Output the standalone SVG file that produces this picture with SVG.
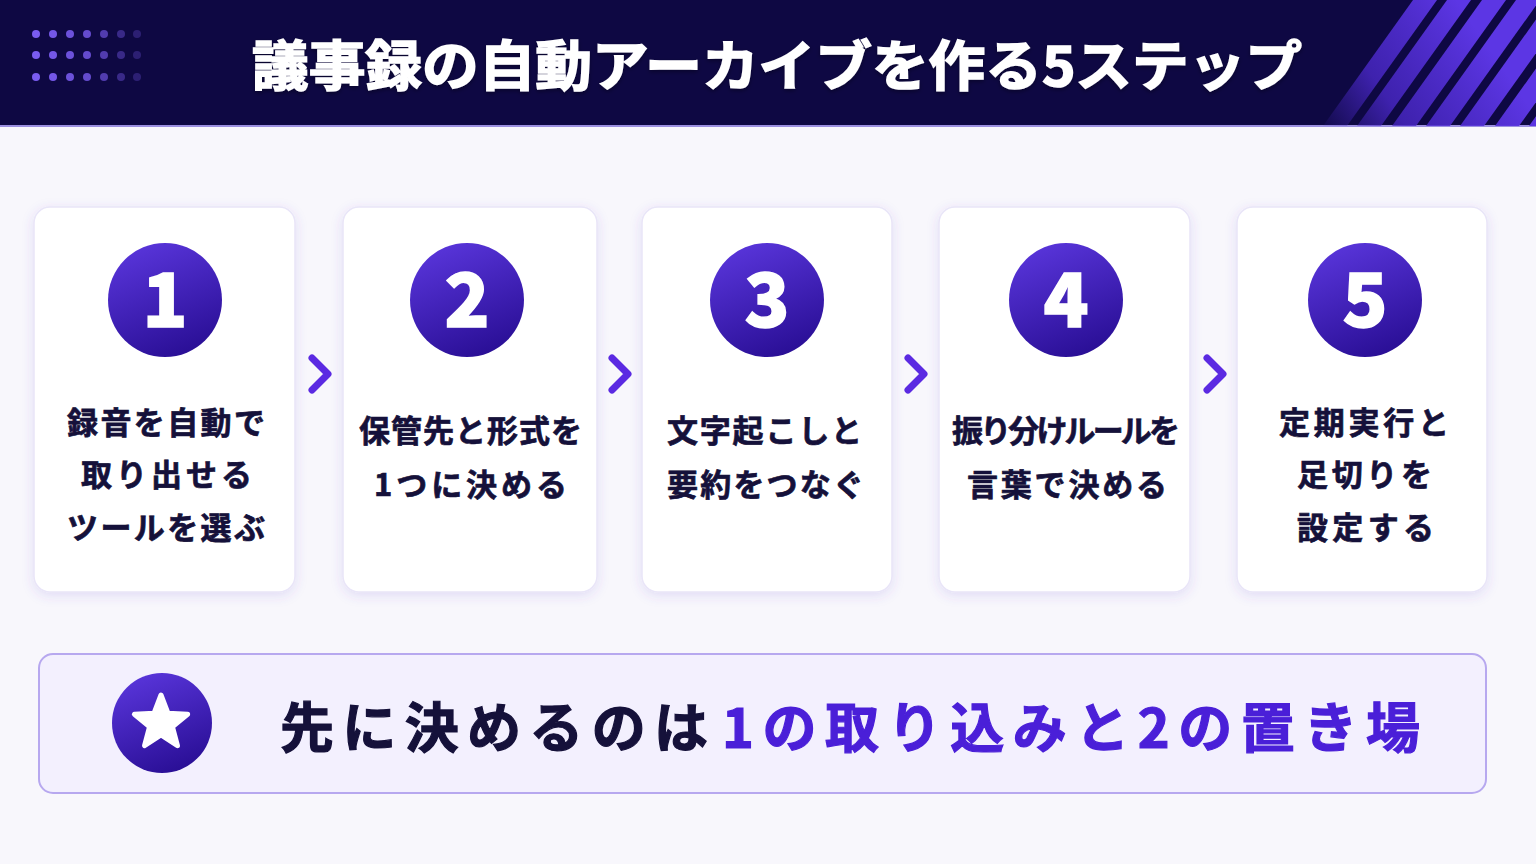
<svg xmlns="http://www.w3.org/2000/svg" width="1536" height="864" viewBox="0 0 1536 864">
<defs>
<style>
.jp{font-family:"Noto Sans CJK JP","Noto Sans CJK SC",sans-serif;font-weight:700;}
.card{fill:#ffffff;stroke:#e9e5f8;stroke-width:1.5;}
.ctext{fill:#15113a;font-size:31px;stroke:#15113a;stroke-width:0.7;}
.num{fill:#ffffff;font-size:74px;font-weight:900;text-anchor:middle;stroke:#ffffff;stroke-width:1.5;}
.chev{fill:none;stroke:#5b2ae2;stroke-width:7;stroke-linecap:round;stroke-linejoin:round;}
.dot{fill:#7a5cf0;}
.band{fill:url(#bandGrad);}
</style>
<linearGradient id="circGrad" x1="0.2" y1="0" x2="0.6" y2="1">
<stop offset="0" stop-color="#5a36dc"/>
<stop offset="1" stop-color="#2a0f96"/>
</linearGradient>
<linearGradient id="bandGrad" gradientUnits="userSpaceOnUse" x1="1315" y1="126" x2="1470" y2="20">
<stop offset="0" stop-color="#4a28c8" stop-opacity="0"/>
<stop offset="0.4" stop-color="#4a28c8" stop-opacity="0.8"/>
<stop offset="1" stop-color="#5c36e4" stop-opacity="1"/>
</linearGradient>
<filter id="shadow" x="-20%" y="-20%" width="140%" height="140%">
<feDropShadow dx="0" dy="3" stdDeviation="6" flood-color="#5a40d0" flood-opacity="0.15"/>
</filter>
<filter id="tshadow" x="-5%" y="-30%" width="110%" height="160%">
<feDropShadow dx="0" dy="2" stdDeviation="2" flood-color="#000000" flood-opacity="0.35"/>
</filter>
<clipPath id="hdrClip"><rect x="0" y="0" width="1536" height="126"/></clipPath>
</defs>

<rect x="0" y="0" width="1536" height="864" fill="#f8f7fc"/>

<g id="header">
<rect x="0" y="0" width="1536" height="126" fill="#0e0843"/>
<rect x="0" y="125" width="1536" height="2" fill="#9b8fe0"/>
<g id="dots">
<g opacity="1"><circle class="dot" cx="36" cy="34" r="4"/><circle class="dot" cx="36" cy="55" r="4"/><circle class="dot" cx="36" cy="77" r="4"/></g>
<g opacity="0.95"><circle class="dot" cx="53" cy="34" r="4"/><circle class="dot" cx="53" cy="55" r="4"/><circle class="dot" cx="53" cy="77" r="4"/></g>
<g opacity="0.88"><circle class="dot" cx="70" cy="34" r="4"/><circle class="dot" cx="70" cy="55" r="4"/><circle class="dot" cx="70" cy="77" r="4"/></g>
<g opacity="0.8"><circle class="dot" cx="87" cy="34" r="4"/><circle class="dot" cx="87" cy="55" r="4"/><circle class="dot" cx="87" cy="77" r="4"/></g>
<g opacity="0.62"><circle class="dot" cx="104" cy="34" r="4"/><circle class="dot" cx="104" cy="55" r="4"/><circle class="dot" cx="104" cy="77" r="4"/></g>
<g opacity="0.4"><circle class="dot" cx="121" cy="34" r="4"/><circle class="dot" cx="121" cy="55" r="4"/><circle class="dot" cx="121" cy="77" r="4"/></g>
<g opacity="0.28"><circle class="dot" cx="137" cy="34" r="4"/><circle class="dot" cx="137" cy="55" r="4"/><circle class="dot" cx="137" cy="77" r="4"/></g>
</g>
<g id="stripes" clip-path="url(#hdrClip)">
<polygon class="band" points="1323,126 1347,126 1437,0 1413,0"/>
<polygon class="band" points="1357,126 1381,126 1471,0 1447,0"/>
<polygon class="band" points="1392,126 1416,126 1506,0 1482,0"/>
<polygon class="band" points="1426,126 1450,126 1540,0 1516,0"/>
<polygon class="band" points="1460,126 1484,126 1574,0 1550,0"/>
<polygon class="band" points="1495,126 1519,126 1609,0 1585,0"/>
<polygon class="band" points="1529,126 1553,126 1643,0 1619,0"/>
</g>
<text class="jp" x="252" y="86" font-size="54" font-weight="900" fill="#ffffff" stroke="#ffffff" stroke-width="1.6" textLength="1050" lengthAdjust="spacingAndGlyphs" filter="url(#tshadow)">議事録の自動アーカイブを作る5ステップ</text>
</g>

<g id="step1">
<rect class="card" x="34" y="207" width="261" height="385" rx="16" filter="url(#shadow)"/>
<circle cx="165" cy="300" r="57" fill="url(#circGrad)"/>
<text class="jp num" x="165" y="327">1</text>
<text class="jp ctext" x="67" y="434" textLength="198">録音を自動で</text>
<text class="jp ctext" x="81" y="486" textLength="171">取り出せる</text>
<text class="jp ctext" x="67" y="539" textLength="198">ツールを選ぶ</text>
</g>

<g id="step2">
<rect class="card" x="343" y="207" width="254" height="385" rx="16" filter="url(#shadow)"/>
<circle cx="467" cy="300" r="57" fill="url(#circGrad)"/>
<text class="jp num" x="467" y="327">2</text>
<text class="jp ctext" x="359" y="442" textLength="223">保管先と形式を</text>
<text class="jp ctext" x="374" y="496" textLength="193">1つに決める</text>
</g>

<g id="step3">
<rect class="card" x="642" y="207" width="250" height="385" rx="16" filter="url(#shadow)"/>
<circle cx="767" cy="300" r="57" fill="url(#circGrad)"/>
<text class="jp num" x="767" y="327">3</text>
<text class="jp ctext" x="667" y="442" textLength="195">文字起こしと</text>
<text class="jp ctext" x="667" y="496" textLength="197">要約をつなぐ</text>
</g>

<g id="step4">
<rect class="card" x="939" y="207" width="251" height="385" rx="16" filter="url(#shadow)"/>
<circle cx="1066" cy="300" r="57" fill="url(#circGrad)"/>
<text class="jp num" x="1066" y="327">4</text>
<text class="jp ctext" x="952" y="442" textLength="228">振り分けルールを</text>
<text class="jp ctext" x="967" y="496" textLength="200">言葉で決める</text>
</g>

<g id="step5">
<rect class="card" x="1237" y="207" width="250" height="385" rx="16" filter="url(#shadow)"/>
<circle cx="1365" cy="300" r="57" fill="url(#circGrad)"/>
<text class="jp num" x="1365" y="327">5</text>
<text class="jp ctext" x="1279" y="434" textLength="170">定期実行と</text>
<text class="jp ctext" x="1297" y="486" textLength="135">足切りを</text>
<text class="jp ctext" x="1297" y="539" textLength="137">設定する</text>
</g>

<g id="connectors">
<polyline class="chev" points="312,358 328,374 312,390"/>
<polyline class="chev" points="612,358 628,374 612,390"/>
<polyline class="chev" points="908,358 924,374 908,390"/>
<polyline class="chev" points="1207,358 1223,374 1207,390"/>
</g>

<g id="summary">
<rect x="39" y="654" width="1447" height="139" rx="14" fill="#f3f0fe" stroke="#b7a8ef" stroke-width="2"/>
<circle cx="162" cy="723" r="50" fill="url(#circGrad)"/>
<polygon points="161,695 168.05,713.29 187.63,714.35 172.41,726.71 177.46,745.65 161,735 144.54,745.65 149.59,726.71 134.37,714.35 153.95,713.29" fill="#ffffff" stroke="#ffffff" stroke-width="5" stroke-linejoin="round"/>
<text class="jp" x="280" y="748" font-size="54" fill="#15113a" stroke="#15113a" stroke-width="1.2" textLength="428">先に決めるのは</text>
<text class="jp" x="722" y="748" font-size="54" fill="#4a1fd8" stroke="#4a1fd8" stroke-width="1.2" textLength="698">1の取り込みと2の置き場</text>
</g>
</svg>
